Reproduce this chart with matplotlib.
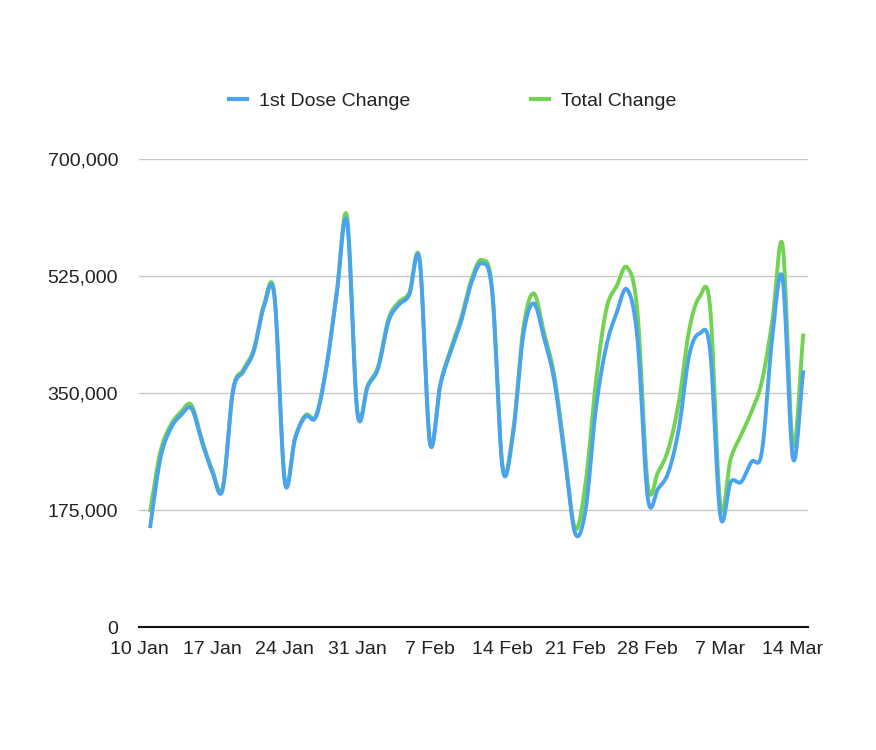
import numpy as np
import pandas as pd
import matplotlib
matplotlib.use("Agg")
import matplotlib.pyplot as plt
from matplotlib.lines import Line2D

plt.rcParams['font.family'] = ['Liberation Sans', 'DejaVu Sans']

# daily values, 11 Jan -> 15 Mar
first_dose = [148, 252, 297, 317, 327, 277, 232, 205, 352, 382,
              412, 480, 494, 217, 282, 315, 314, 387, 497, 606,
              320, 360, 387, 457, 482, 497, 548, 275, 362, 412,
              457, 515, 544, 500, 237, 287, 437, 484, 432, 367,
              252, 140, 175, 327, 420, 470, 505, 432, 193, 207,
              232, 297, 407, 439, 415, 166, 217, 217, 247, 262,
              432, 521, 252, 384]
total = [172, 262, 302, 322, 332, 280, 235, 208, 355, 385,
         415, 483, 497, 219, 284, 317, 316, 389, 500, 614,
         322, 362, 390, 461, 486, 500, 550, 276, 364, 416,
         462, 520, 549, 505, 240, 292, 447, 499, 440, 375,
         260, 147, 215, 367, 475, 510, 538, 472, 213, 232,
         267, 337, 445, 494, 480, 182, 252, 287, 322, 367,
         457, 571, 272, 439]
first_dose = np.array(first_dose) * 1000
total = np.array(total) * 1000

tick_dates = pd.date_range("2021-01-10", "2021-03-14", freq="7D")
tick_labels = [f"{d.day} {d.strftime('%b')}" for d in tick_dates]
y_ticks = [0, 175000, 350000, 525000, 700000]

days = np.arange(1, len(first_dose) + 1)  # days after 10 Jan


def catmull_rom(x, y, n=20):
    # smooth curve through every point
    xp = np.concatenate([[2 * x[0] - x[1]], x, [2 * x[-1] - x[-2]]])
    yp = np.concatenate([[2 * y[0] - y[1]], y, [2 * y[-1] - y[-2]]])
    xs, ys = [], []
    t = np.linspace(0, 1, n, endpoint=False)
    for i in range(1, len(xp) - 2):
        for arr, out in ((xp, xs), (yp, ys)):
            p0, p1, p2, p3 = arr[i - 1], arr[i], arr[i + 1], arr[i + 2]
            out.append(0.5 * (2 * p1 + (-p0 + p2) * t
                              + (2 * p0 - 5 * p1 + 4 * p2 - p3) * t ** 2
                              + (-p0 + 3 * p1 - 3 * p2 + p3) * t ** 3))
    xs.append([x[-1]])
    ys.append([y[-1]])
    return np.concatenate(xs), np.concatenate(ys)


blue = "#4aa3ee"
green = "#72d252"

fig = plt.figure(figsize=(8.76, 7.5), dpi=100)
ax = fig.add_axes([139 / 876, 123 / 750, 669 / 876, 468 / 750])

gx, gy = catmull_rom(days, total)
bx, by = catmull_rom(days, first_dose)
ax.plot(gx, gy, color=green, lw=2.8, solid_capstyle="butt", zorder=3)
ax.plot(bx, by, color=blue, lw=2.8, solid_capstyle="butt", zorder=4)

ax.set_ylim(0, 700000)
ax.set_xlim(-0.06, 64.45)
ax.set_yticks(y_ticks)
ax.set_yticklabels([f"{v:,}" for v in y_ticks])
ax.set_xticks(np.arange(0, 7 * len(tick_labels), 7))
ax.set_xticklabels(tick_labels)
ax.tick_params(axis="y", length=0, pad=15, labelsize=14, labelcolor="#222222")
ax.tick_params(axis="x", length=0, pad=10, labelsize=14, labelcolor="#222222")

ax.grid(axis="y", color="#c8c8c8", lw=1)
ax.set_axisbelow(True)
for s in ["left", "right", "top"]:
    ax.spines[s].set_visible(False)
ax.spines["bottom"].set_color("#111111")
ax.spines["bottom"].set_linewidth(1.5)
ax.spines["bottom"].set_zorder(5)

handles = [Line2D([], [], color=blue, lw=3), Line2D([], [], color=green, lw=3)]
fig.legend(handles, ["1st Dose Change", "Total Change"], loc="center",
           bbox_to_anchor=(0.5165, 0.865), ncol=2, frameon=False, fontsize=14,
           handlelength=0.93, handletextpad=0.62, columnspacing=6.2,
           labelcolor="#222222")

fig.savefig("out.png", dpi=100)
